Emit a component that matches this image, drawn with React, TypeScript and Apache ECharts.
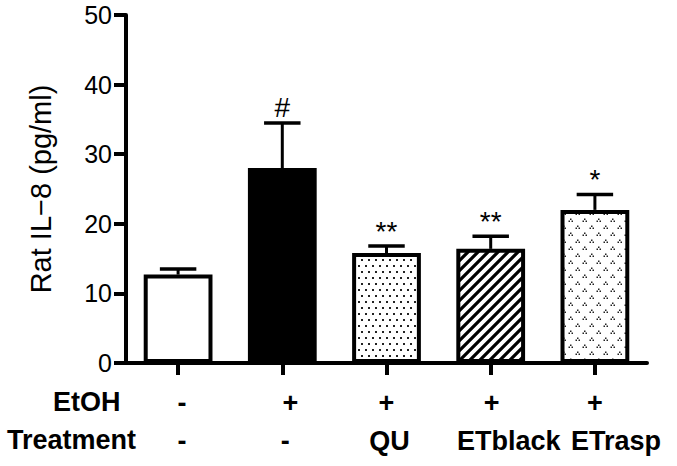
import React, { useEffect, useRef } from 'react';
import * as echarts from 'echarts';

// ---- data ----
const groups = ['Control', 'EtOH', 'EtOH + QU', 'EtOH + ETblack', 'EtOH + ETrasp'];
const etohRow = ['-', '+', '+', '+', '+'];
const treatmentRow = ['-', '-', 'QU', 'ETblack', 'ETrasp'];
const means = [12.7, 28.0, 15.8, 16.4, 22.0];
const errorTops = [13.5, 34.5, 16.8, 18.2, 24.2];
const significance = ['', '#', '**', '**', '*'];
const yAxisTitle = 'Rat IL\u22128 (pg/ml)';
const rowHeaders = ['EtOH', 'Treatment'];

// ---- style ----
const FONT = '"Liberation Sans", Arial, Helvetica, sans-serif';
const etohOffsets = [4, 8, 0, 1, 0];
const treatmentOffsets = [4, 3, 3, 18, 21];

function makeTile(w: number, h: number, draw: (ctx: CanvasRenderingContext2D) => void) {
  const c = document.createElement('canvas');
  c.width = w;
  c.height = h;
  const ctx = c.getContext('2d')!;
  ctx.fillStyle = '#fff';
  ctx.fillRect(0, 0, w, h);
  draw(ctx);
  return { image: c, repeat: 'repeat', imageWidth: w, imageHeight: h } as any;
}

export default function App() {
  const ref = useRef<HTMLDivElement>(null);
  useEffect(() => {
    if (!ref.current) return;
    const chart = echarts.init(ref.current, undefined, { renderer: 'svg' });

    const dots = makeTile(7, 12, (ctx) => {
      ctx.fillStyle = '#222';
      ctx.fillRect(1, 1, 2, 2);
      ctx.fillRect(4, 7, 2, 2);
    });
    const stripes = makeTile(10, 10, (ctx) => {
      ctx.strokeStyle = '#000';
      ctx.lineWidth = 3.2;
      ctx.beginPath();
      ctx.moveTo(-5, 15); ctx.lineTo(15, -5);
      ctx.moveTo(-10, 10); ctx.lineTo(10, -10);
      ctx.moveTo(0, 20); ctx.lineTo(20, 0);
      ctx.stroke();
    });
    const triangles = makeTile(14, 14, (ctx) => {
      ctx.fillStyle = '#222';
      const cluster = (cx: number, cy: number) => {
        ctx.fillRect(cx, cy - 1.5, 1.5, 1.5);
        ctx.fillRect(cx - 1.5, cy + 0.5, 1.5, 1.5);
        ctx.fillRect(cx + 1.5, cy + 0.5, 1.5, 1.5);
      };
      cluster(3, 3);
      cluster(10, 10);
    });
    const fills: any[] = ['#fff', '#000', dots, stripes, triangles];

    const rich: Record<string, any> = {};
    groups.forEach((_, i) => {
      rich['e' + i] = {
        fontSize: 27, fontWeight: 'bold', fontFamily: FONT, color: '#000',
        lineHeight: 38, padding: [0, 0, 0, 2 * etohOffsets[i]],
      };
      rich['t' + i] = {
        fontSize: 27, fontWeight: 'bold', fontFamily: FONT, color: '#000',
        lineHeight: 38, padding: [0, 0, 0, 2 * treatmentOffsets[i]],
      };
    });

    chart.setOption({
      animation: false,
      backgroundColor: '#fff',
      grid: { left: 126, right: 30, top: 15, bottom: 103, containLabel: false },
      xAxis: {
        type: 'category',
        data: groups,
        axisLine: { show: true, lineStyle: { color: '#000', width: 4 } },
        axisTick: { show: true, alignWithLabel: true, length: 12, lineStyle: { color: '#000', width: 4 } },
        axisLabel: {
          interval: 0,
          margin: 21,
          formatter: (_v: string, i: number) => `{e${i}|${etohRow[i]}}\n{t${i}|${treatmentRow[i]}}`,
          rich,
        },
        splitLine: { show: false },
      },
      yAxis: {
        type: 'value',
        min: 0,
        max: 50,
        interval: 10,
        name: yAxisTitle,
        nameLocation: 'middle',
        nameGap: 71,
        nameTextStyle: { fontSize: 29, fontFamily: FONT, color: '#000' },
        axisLine: { show: true, lineStyle: { color: '#000', width: 4 } },
        axisTick: { show: true, length: 12, lineStyle: { color: '#000', width: 4 } },
        axisLabel: { fontSize: 25, fontFamily: FONT, color: '#000', margin: 14 },
        splitLine: { show: false },
      },
      graphic: [
        {
          type: 'text', left: 53, top: 388, z: 10,
          style: { text: rowHeaders[0], font: `bold 27px ${FONT}`, fill: '#000' },
        },
        {
          type: 'text', left: 7, top: 426, z: 10,
          style: { text: rowHeaders[1], font: `bold 27px ${FONT}`, fill: '#000' },
        },
      ],
      series: [
        {
          type: 'bar',
          barWidth: '66%',
          data: means.map((v, i) => ({ value: v, itemStyle: { color: fills[i] } })),
          itemStyle: { borderColor: '#000', borderWidth: 4 },
          z: 2,
        },
        {
          type: 'custom',
          z: 3,
          encode: { x: 0, y: 1 },
          data: means.map((m, i) => [i, m, errorTops[i]]),
          renderItem: (params: any, api: any) => {
            const i = api.value(0);
            const base = api.coord([i, api.value(1)]);
            const top = api.coord([i, api.value(2)]);
            const hw = api.size([1, 0])[0] * 0.175;
            return {
              type: 'group',
              children: [
                { type: 'line', shape: { x1: base[0], y1: base[1], x2: top[0], y2: top[1] }, style: { stroke: '#000', lineWidth: 3 } },
                { type: 'line', shape: { x1: top[0] - hw, y1: top[1], x2: top[0] + hw, y2: top[1] }, style: { stroke: '#000', lineWidth: 3.5 } },
                {
                  type: 'text', x: top[0], y: top[1] - 1,
                  style: { text: significance[params.dataIndex], fill: '#000', font: `28px ${FONT}`, align: 'center', verticalAlign: 'bottom' },
                },
              ],
            };
          },
        },
      ],
    });
    return () => chart.dispose();
  }, []);
  return <div ref={ref} style={{ position: 'fixed', left: 0, top: 0, width: 677, height: 466 }} />;
}
